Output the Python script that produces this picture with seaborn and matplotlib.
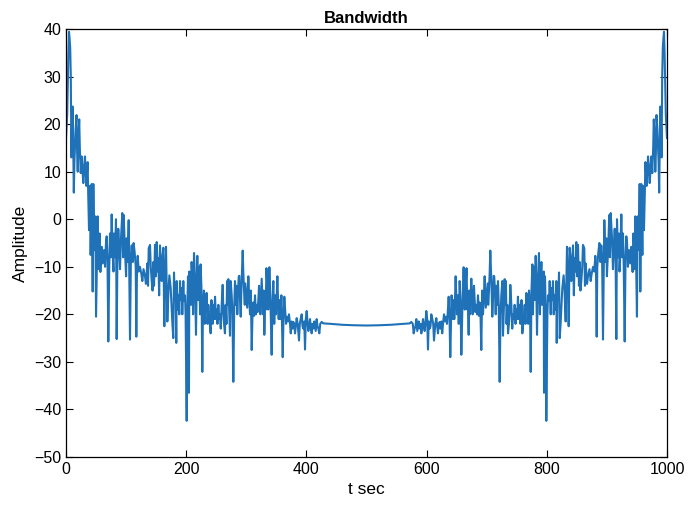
import matplotlib
matplotlib.use("Agg")
import matplotlib.pyplot as plt
import seaborn as sns
import pandas as pd

# ---- data (left lobe, flat middle, right lobe) ----
t_left = [0, 2, 4, 5, 6, 7, 8, 9, 10, 11, 12, 13, 14, 15, 16, 17.5, 18.5, 19.5, 21, 22,
          23, 24.5, 26, 27, 28.8, 30, 31.6, 32.5, 33.8, 35, 36, 37, 38.3, 39, 40, 41, 42,
          42.7, 44.4, 45.5, 46.5, 47.2, 48.8, 50, 51.5, 52.7, 53.8, 55, 56, 57.2, 58.5,
          59.4, 61, 63.2, 65, 66.5, 67.7, 69, 70.4, 72, 73.2, 74.5, 76, 77.6, 79, 79.9,
          81.5, 83.2, 84.3, 85.5, 87, 88.5, 89.9, 91.5, 93.7, 95, 96, 98.2, 100, 101,
          102.5, 104.3, 106.5, 108, 109.3, 111, 112.5, 114.3, 116, 117, 118, 119.3, 121,
          123, 125.4, 127, 129, 131.5, 133, 135.4, 136.5, 137.6, 139.8, 141, 142.6, 144,
          145.3, 146.5, 148.1, 149.5, 150.9, 152.5, 153.6, 155, 156.4, 158, 159.2, 160.5,
          162, 163.6, 165, 166.4, 167.5, 168.6, 170.5, 172, 174.2, 175.5, 177, 178.5,
          179.7, 181, 182.5, 183.5, 184.2, 185.5, 187, 188.5, 189.7, 191, 192.5, 193.5,
          195.2, 196.3, 198, 199, 200.8, 202, 203, 204.6, 205.2, 206.5, 208, 209, 210.5,
          211.5, 213, 214.5, 216.3, 217.5, 218.5, 220, 221.9, 223, 224, 225.5, 226.8, 228,
          229.6, 231, 231.8, 233, 234, 235.5, 236.8, 238.5, 240.7, 242, 243, 244, 245.2,
          246.5, 248, 249.5, 250.7, 252, 253.5, 255, 256.3, 257.5, 259, 260.7, 262, 263,
          264.5, 265.7, 267, 268, 269, 270.1, 271.5, 272.9, 274, 275.7, 277, 278.4, 280,
          281.2, 282.5, 284, 285, 286.2, 287.5, 288.4, 289.5, 290.7, 292, 294, 295, 296.2,
          297.5, 298.4, 300, 301.5, 303.4, 305, 306.2, 307.5, 309, 310.5, 311.7, 313,
          314.5, 316, 317.3, 319, 321.2, 322.5, 323.4, 325.6, 327, 327.8, 329, 330, 331.5,
          332.3, 333.5, 335, 336.5, 338.4, 340, 342.2, 343.5, 345, 346.5, 347.8, 349.5,
          351.7, 353, 353.9, 355, 356.1, 357.5, 358.4, 360.6, 362, 363.3, 365, 366.1,
          367.5, 369.4, 371, 372.7, 374, 375.5, 377, 378.3, 380, 381.1, 383.8, 385.5,
          387.7, 389, 390.5, 392.2, 393.5, 394.9, 396.5, 397.7, 399, 400.5, 402, 403.2,
          405, 406, 407.5, 408.8, 410, 411.5, 413, 414.3, 415.5, 417.1, 418.5, 419.9,
          421.5, 423, 425.4]
amp_left = [17, 22, 35, 39.4, 38, 36, 30, 13, 20, 23.7, 16, 5.6, 12, 15.3, 19, 21.9, 14, 10,
            18, 21, 15, 9.7, 13.2, 11, 7.6, 11, 13.2, 10, 7, 10, 12, 5, -2.3, 4, 7, -7.5, 2,
            7.4, -15.2, 7.4, -2, -6.5, 0.6, -20.5, -8, 0.6, -10.5, -5, -3, -11.1, -7, -5.8,
            -9.3, -6.5, -10, -5, -3.6, -8, -25.7, -10, -3, -8, 1, -7, -11, -3, -8, 0,
            -25.2, -9, -2, -6, -10.5, -4, 1.3, -8, 0.9, -7, -12, -4, -9, -0.2, -25.3, -8,
            -5.5, -9, -5, -7, -10, -24.7, -12, -7.7, -11, -10, -11.5, -13, -10.5, -12,
            -13.6, -9.3, -14, -6.1, -5.4, -10, -13, -15, -9, -14, -5.4, -12, -4.8, -11,
            -8.2, -16, -5.5, -10, -13, -8, -6, -22.5, -12, -5.8, -14, -21.5, -15, -11.8,
            -14.5, -18, -21.9, -25, -11.2, -17, -14.5, -26, -13, -19, -15.9, -20, -13, -17,
            -14.5, -20, -13, -17.2, -16, -20, -42.4, -18, -12, -36.5, -11, -16, -18, -9,
            -14, -20, -7.1, -12, -24.3, -14, -7.7, -17, -10, -20, -9.5, -15, -32.1, -18,
            -15, -22, -16, -19, -15.5, -22, -18, -21, -24, -17, -20, -22, -18, -21, -16.3,
            -21, -19, -22, -18, -21, -20, -23, -18, -13.8, -20, -22, -24, -18, -22, -13,
            -18, -12.6, -19, -24.5, -13, -16, -20, -34.2, -18, -13, -18, -14, -20, -15, -12,
            -11.9, -17, -20.5, -14, -6.6, -11, -15, -18, -13.5, -16, -18.6, -12, -17, -20,
            -15, -27.5, -19, -17.5, -20.3, -16, -20, -18, -19.5, -14, -18, -20, -12.5, -17,
            -20, -15, -24.3, -16, -19, -10.3, -14, -19, -10.1, -16, -28.5, -18, -13, -22,
            -16, -20, -12, -18, -21, -17, -21, -19, -16, -29, -20, -16.3, -20, -22, -20.5,
            -21.5, -20, -22, -24, -21.5, -23, -21.6, -22.5, -24, -20.8, -22, -25.5, -22,
            -21, -20, -22.5, -23, -21.5, -27.4, -21, -19.3, -22, -23.5, -22, -21, -23, -24,
            -22, -23, -21.5, -22.5, -23.5, -21, -22.5, -23, -24, -22, -21.6]

t_mid = [428, 440, 460, 480, 500, 520, 540, 560, 572]
amp_mid = [-21.9, -22.0, -22.2, -22.3, -22.35, -22.3, -22.2, -22.0, -21.9]

t_right = [574.6, 577, 578.5, 580.1, 581.5, 582.9, 584.5, 585.7, 587, 588.5, 590, 591.2,
           592.5, 594, 595, 596.8, 598, 599.5, 601, 602.3, 603.5, 605.1, 606.5, 607.8,
           609.5, 611, 612.3, 614.5, 616.2, 618.9, 620, 621.7, 623, 624.5, 626, 627.3, 629,
           630.6, 632.5, 633.9, 635, 636.7, 638, 639.4, 641.6, 642.5, 643.9, 645, 646.1,
           647, 648.3, 650.5, 652.2, 653.5, 655, 656.5, 657.8, 660, 661.6, 663.5, 665,
           666.5, 667.7, 668.5, 670, 671, 672.2, 673, 674.4, 676.6, 677.5, 678.8, 681,
           682.7, 684, 685.5, 687, 688.3, 689.5, 691, 692.5, 693.8, 695, 696.6, 698.5, 700,
           701.6, 702.5, 703.8, 705, 706, 708, 709.3, 710.5, 711.6, 712.5, 713.8, 715, 716,
           717.5, 718.8, 720, 721.6, 723, 724.3, 726, 727.1, 728.5, 729.9, 731, 732, 733,
           734.3, 735.5, 737, 738, 739.3, 741, 742.5, 743.7, 745, 746.5, 748, 749.3, 750.5,
           752, 753.5, 754.8, 756, 757, 758, 759.3, 761.5, 763.2, 764.5, 766, 767, 768.2,
           769, 770.4, 772, 773.2, 774.5, 776, 777, 778.1, 780, 781.5, 782.5, 783.7, 785.5,
           787, 788.5, 789.5, 791, 792, 793.5, 794.8, 795.4, 797, 798, 799.2, 801, 802,
           803.7, 804.8, 806.5, 807.5, 809, 810.3, 811.5, 813, 814.5, 815.8, 816.5, 817.5,
           819, 820.3, 821.5, 823, 824.5, 825.8, 828, 829.5, 831.4, 832.5, 833.6, 835,
           836.4, 838, 839.5, 840.8, 842, 843.6, 845, 846.4, 847.5, 849.1, 850.5, 851.9,
           853.5, 854.7, 856, 857.4, 859, 860.2, 862.4, 863.5, 864.6, 867, 868.5, 871, 873,
           874.6, 877, 879, 880.7, 882, 883, 884, 885.7, 887.5, 889, 890.7, 892, 893.5,
           895.7, 897.5, 899, 900, 901.8, 904, 905, 906.3, 908.5, 910.1, 911.5, 913, 914.5,
           915.7, 916.8, 918.5, 920.1, 921, 922.4, 924, 925.5, 926.8, 928, 929.6, 931,
           932.3, 933.5, 935, 936.8, 939, 940.6, 941.5, 942.8, 944, 945, 946.2, 947.3,
           948.5, 950, 951.2, 952.8, 953.5, 954.5, 955.6, 957.3, 958, 959, 960, 961, 961.7,
           963, 964, 965, 966.2, 967.5, 968.4, 970, 971.2, 973, 974, 975.5, 977, 978, 979,
           980.5, 981.5, 982.5, 984, 985, 986, 987, 988, 989, 990, 991, 992, 993, 994, 995,
           996, 998, 1000]
amp_right = [-21.6, -22, -24, -23, -22.5, -21, -23.5, -22.5, -21.5, -23, -22, -24, -23, -21,
             -22, -23.5, -22, -19.3, -21, -27.4, -21.5, -23, -22.5, -20, -21, -22, -25.5,
             -22, -20.8, -24, -22.5, -21.6, -23, -21.5, -24, -22, -20, -21.5, -20.5, -22,
             -20, -16.3, -20, -29, -16, -19, -21, -17, -21, -18, -12, -20, -16, -22, -13,
             -18, -28.5, -16, -10.1, -19, -14, -10.3, -19, -16, -24.3, -15, -20, -17, -12.5,
             -20, -18, -14, -19.5, -18, -20, -16, -20.3, -17.5, -19, -27.5, -15, -20, -17,
             -12, -18.6, -16, -13.5, -18, -15, -11, -6.6, -14, -20.5, -17, -11.9, -12, -15,
             -20, -14, -18, -13, -18, -34.2, -20, -16, -13, -24.5, -19, -12.6, -18, -13, -22,
             -18, -24, -22, -20, -13.8, -18, -23, -20, -21, -18, -22, -19, -21, -16.3, -21,
             -18, -22, -20, -17, -24, -21, -18, -22, -15.5, -19, -16, -22, -15, -18, -32.1,
             -15, -9.5, -20, -10, -17, -7.7, -14, -24.3, -12, -7.1, -20, -14, -9, -18, -16,
             -11, -36.5, -12, -18, -42.4, -20, -16, -17.2, -13, -20, -14.5, -17, -13, -20,
             -15.9, -19, -13, -26, -14.5, -17, -11.2, -25, -21.9, -18, -14.5, -11.8, -15,
             -21.5, -14, -5.8, -12, -22.5, -6, -8, -13, -10, -5.5, -16, -8.2, -11, -4.8, -12,
             -5.4, -14, -9, -15, -13, -10, -5.4, -6.1, -14, -9.3, -13.6, -12, -10.5, -13,
             -11.5, -10, -11, -7.7, -12, -24.7, -10, -7, -5, -9, -5.5, -8, -25.3, -0.2, -9,
             -4, -12, -7, 0.9, -8, 1.3, -4, -10.5, -6, -2, -9, -25.2, 0, -8, -3, -11, -7, 1,
             -8, -3, -10, -25.7, -8, -3.6, -5, -10, -6.5, -9.3, -5.8, -7, -11.1, -3, -5,
             -10.5, 0.6, -8, -20.5, 0.6, -6.5, -2, 7.4, -15.2, 7.4, 2, -7.5, 7, 4, -2.3, 5,
             12, 10, 7, 10, 13.2, 11, 7.6, 11, 13.2, 9.7, 15, 21, 18, 10, 14, 21.9, 19, 15.3,
             12, 5.6, 16, 23.7, 20, 13, 30, 36, 38, 39.4, 35, 22, 17]

x_ticks = [0, 200, 400, 600, 800, 1000]
y_ticks = [-50, -40, -30, -20, -10, 0, 10, 20, 30, 40]

df = pd.DataFrame({
    "t": t_left + t_mid + t_right,
    "amp": amp_left + amp_mid + amp_right,
})

sns.set_style("ticks")
plt.rcParams["font.family"] = ["Liberation Sans", "DejaVu Sans"]
plt.rcParams["text.color"] = "black"
plt.rcParams["axes.labelcolor"] = "black"

fig = plt.figure(figsize=(6.89, 5.11), dpi=100)
ax = fig.add_axes([66 / 689, 1 - 457 / 511, (667 - 66) / 689, (457 - 29) / 511])

sns.lineplot(data=df, x="t", y="amp", ax=ax, color="#1f72b8", linewidth=1.5,
             sort=False, estimator=None)

ax.set_xlim(0, 1000)
ax.set_ylim(-50, 40)
ax.set_xticks(x_ticks)
ax.set_yticks(y_ticks)
ax.tick_params(direction="in", top=True, right=True, labelsize=11.5, length=5,
               width=0.8, colors="black")
for s in ax.spines.values():
    s.set_visible(True)
    s.set_linewidth(0.9)
    s.set_color("black")
ax.set_xlabel("t sec", fontsize=12.5, color="black")
ax.set_ylabel("Amplitude", fontsize=12.5, color="black")
ax.set_title("Bandwidth", fontsize=12, fontweight="bold", color="black", pad=4)

fig.savefig("out.png", dpi=100)
